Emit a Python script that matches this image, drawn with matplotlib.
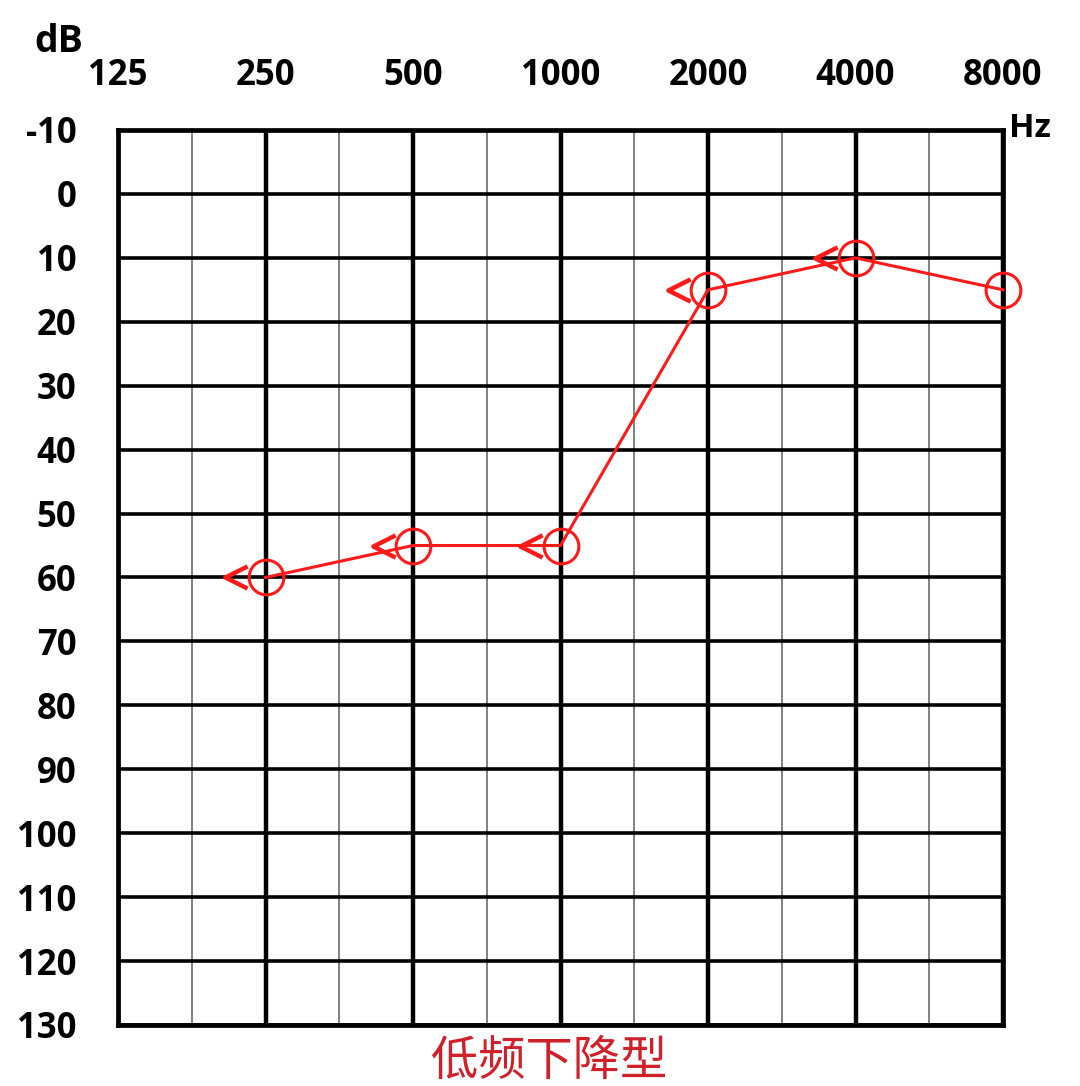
import numpy as np
import matplotlib.pyplot as plt
from matplotlib.path import Path

# audiogram data (right ear, air + bone conduction)
freqs = [125, 250, 500, 1000, 2000, 4000, 8000]
freq_labels = ["125", "250", "500", "1000", "2000", "4000", "8000"]
air_freqs = [250, 500, 1000, 2000, 4000, 8000]
air_db = [60, 55, 55, 15, 10, 15]
bone_freqs = [250, 500, 1000, 2000, 4000]
bone_db = [60, 55, 55, 15, 10]
db_ticks = list(range(-10, 131, 10))
title = "低频下降型"

plt.rcParams['font.family'] = ['Open Sans', 'Noto Sans CJK SC', 'DejaVu Sans']

fig = plt.figure(figsize=(10.8, 10.86), dpi=100)
ax = fig.add_axes([0.1093, 0.0562, 0.8194, 0.8241])

x_of = lambda f: np.log2(np.asarray(f) / 125.0)

ax.set_xlim(0, 6)
ax.set_ylim(130, -10)

# grid: thick octave lines, thin half-octave lines, thick dB lines
for i in range(7):
    ax.axvline(i, color='black', lw=3.2, zorder=1)
for i in np.arange(0.5, 6, 1):
    ax.axvline(i, color='#777777', lw=1.3, zorder=1)
for d in db_ticks:
    ax.axhline(d, color='black', lw=2.6, zorder=1)

for s in ax.spines.values():
    s.set_linewidth(3.4)

ax.xaxis.tick_top()
ax.set_xticks(x_of(freqs))
ax.set_xticklabels(freq_labels)
ax.set_yticks(db_ticks)
ax.set_yticklabels([str(d) for d in db_ticks])
ax.tick_params(length=0, labelsize=25)
ax.tick_params(axis='x', pad=26)
ax.tick_params(axis='y', pad=30)
for lab in ax.get_xticklabels() + ax.get_yticklabels():
    lab.set_fontweight('bold')
for lab in ax.get_yticklabels():
    lab.set_horizontalalignment('right')

# open chevron marker for bone conduction
chevron = Path([(1, 1), (-1, 0), (1, -1)], [Path.MOVETO, Path.LINETO, Path.LINETO])

red = '#ff1a1a'
ax.plot(x_of(air_freqs), air_db, color=red, lw=2.2, marker='o', ms=25,
        mfc='none', mec=red, mew=2.2, zorder=3, clip_on=False)
ax.plot(x_of(bone_freqs) - 0.2, bone_db, ls='none', marker=chevron, ms=16,
        mfc='none', mec=red, mew=3.2, zorder=3)

fig.text(0.032, 0.961, "dB", fontsize=27, fontweight='bold', ha='left', va='center')
fig.text(0.934, 0.882, "Hz", fontsize=24, fontweight='bold', ha='left', va='center')
fig.text(0.508, 0.022, title, fontsize=34, color='#d0202a', ha='center', va='center')

fig.savefig("out.png", dpi=100)
